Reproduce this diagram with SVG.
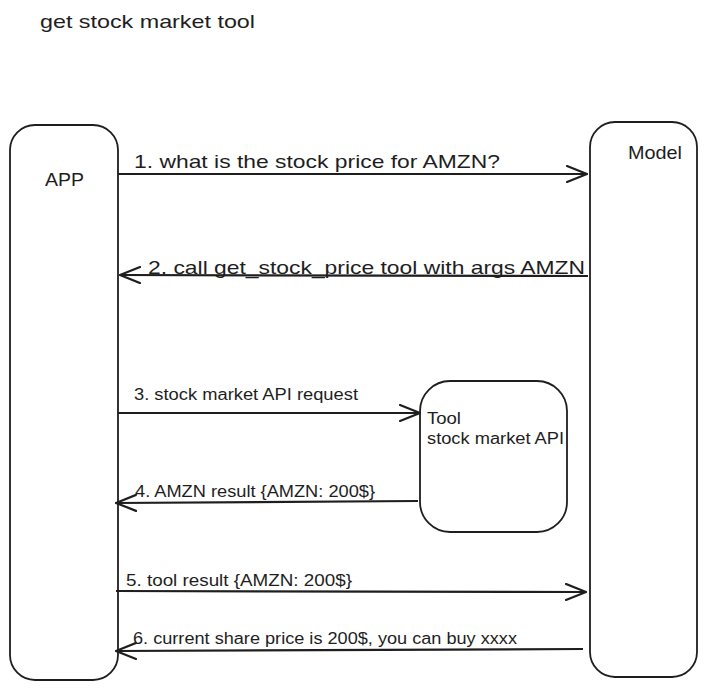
<svg xmlns="http://www.w3.org/2000/svg" width="707" height="690" viewBox="0 0 707 690">
<style>
.box{fill:#fff;stroke:#1e1e1e;stroke-width:1.8}
.conn{fill:none;stroke:#1e1e1e;stroke-width:2.2}
text{font-family:"Liberation Sans","DejaVu Sans",sans-serif;fill:#1e1e1e}
.lbl{font-size:19px}
.sm{font-size:16px}
</style>
<defs>
<marker id="arr" viewBox="0 0 22 18" refX="21" refY="9" markerWidth="22" markerHeight="18" markerUnits="userSpaceOnUse" orient="auto">
<path d="M1,1 L21,9 L1,17" fill="none" stroke="#1e1e1e" stroke-width="2.2" stroke-linecap="round"/>
</marker>
</defs>
<rect width="707" height="690" fill="#fff"/>
<text id="title" x="40" y="28" font-size="19" textLength="215" lengthAdjust="spacingAndGlyphs">get stock market tool</text>
<g id="app">
<rect class="box" x="10" y="125" width="108" height="555" rx="25"/>
<text x="45" y="186" font-size="19" textLength="39" lengthAdjust="spacingAndGlyphs">APP</text>
</g>
<g id="model">
<rect class="box" x="590" y="122" width="107" height="555" rx="25"/>
<text x="628" y="159" font-size="19" textLength="54" lengthAdjust="spacingAndGlyphs">Model</text>
</g>
<g id="tool">
<rect class="box" x="420" y="381" width="147" height="151" rx="30"/>
<text class="sm" x="427" y="424" textLength="34" lengthAdjust="spacingAndGlyphs">Tool</text>
<text class="sm" x="427" y="444" textLength="137" lengthAdjust="spacingAndGlyphs">stock market API</text>
</g>
<g id="connectors">
<path class="conn" d="M118,174 L587,174" marker-end="url(#arr)"/>
<path class="conn" d="M588,276 L120,275" marker-end="url(#arr)"/>
<path class="conn" d="M118,413 L420,413" marker-end="url(#arr)"/>
<path class="conn" d="M418,501 L116,503" marker-end="url(#arr)"/>
<path class="conn" d="M116,591 L586,592" marker-end="url(#arr)"/>
<path class="conn" d="M583,649 L116,651" marker-end="url(#arr)"/>
</g>
<g id="labels">
<text class="lbl" x="134" y="168" textLength="366" lengthAdjust="spacingAndGlyphs">1. what is the stock price for AMZN?</text>
<text class="lbl" x="148" y="274" textLength="437" lengthAdjust="spacingAndGlyphs">2. call get_stock_price tool with args AMZN</text>
<text class="sm" x="134" y="400" textLength="224" lengthAdjust="spacingAndGlyphs">3. stock market API request</text>
<text class="sm" x="135" y="497" textLength="240" lengthAdjust="spacingAndGlyphs">4. AMZN result {AMZN: 200$}</text>
<text class="sm" x="126" y="586" textLength="226" lengthAdjust="spacingAndGlyphs">5. tool result {AMZN: 200$}</text>
<text class="sm" x="133" y="644" textLength="384" lengthAdjust="spacingAndGlyphs">6. current share price is 200$, you can buy xxxx</text>
</g>
</svg>
